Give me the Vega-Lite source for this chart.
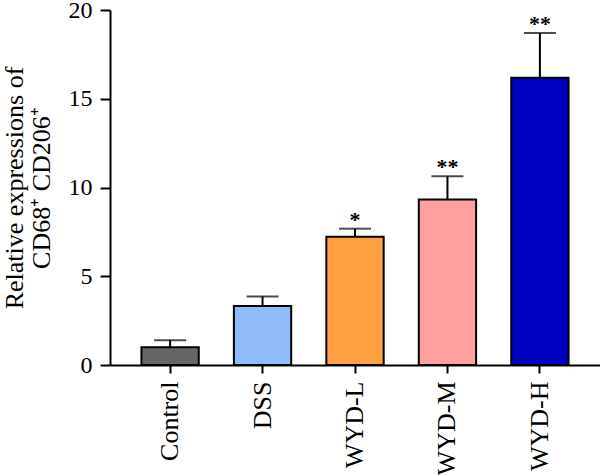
{
  "$schema": "https://vega.github.io/schema/vega-lite/v6.json",
  "autosize": {"type": "none"},
  "width": 490,
  "height": 355,
  "padding": {"left": 110, "top": 10, "right": 0, "bottom": 110},
  "background": "white",
  "config": {
    "view": {"stroke": null},
    "font": "Liberation Serif",
    "axis": {"grid": false, "domainColor": "black", "tickColor": "black", "labelColor": "black", "titleColor": "black", "domainWidth": 2, "tickWidth": 2, "labelFont": "Liberation Serif", "titleFont": "Liberation Serif"}
  },
  "data": {
    "values": [
      {"group": "Control", "value": 1.0, "upper": 1.4, "sig": "", "color": "#666666"},
      {"group": "DSS", "value": 3.33, "upper": 3.86, "sig": "", "color": "#8fbcf8"},
      {"group": "WYD-L", "value": 7.23, "upper": 7.68, "sig": "*", "color": "#ffa040"},
      {"group": "WYD-M", "value": 9.33, "upper": 10.63, "sig": "**", "color": "#ffa0a0"},
      {"group": "WYD-H", "value": 16.18, "upper": 18.7, "sig": "**", "color": "#0000c0"}
    ]
  },
  "encoding": {
    "x": {
      "field": "group", "type": "nominal", "sort": null,
      "scale": {"paddingInner": 0.38, "paddingOuter": 0.34},
      "axis": {"title": null, "labelAngle": -90, "labelAlign": "right", "labelBaseline": "middle", "labelFontSize": 26, "tickSize": 8, "labelPadding": 8}
    }
  },
  "layer": [
    {
      "mark": {"type": "rule", "strokeWidth": 2, "color": "black"},
      "encoding": {
        "y": {"field": "value", "type": "quantitative"},
        "y2": {"field": "upper"}
      }
    },
    {
      "mark": {"type": "tick", "size": 32, "thickness": 2, "color": "black"},
      "encoding": {
        "y": {"field": "upper", "type": "quantitative"}
      }
    },
    {
      "mark": {"type": "bar", "stroke": "black", "strokeWidth": 2},
      "encoding": {
        "y": {
          "field": "value", "type": "quantitative",
          "scale": {"domain": [0, 20], "nice": false},
          "axis": {"values": [0, 5, 10, 15, 20], "title": ["Relative expressions of", "CD68⁺ CD206⁺"], "titleFontSize": 26, "titleFontWeight": "normal", "titleLineHeight": 27, "labelFontSize": 24, "tickSize": 10, "labelPadding": 8, "titlePadding": 14}
        },
        "fill": {"field": "color", "type": "nominal", "scale": null}
      }
    },
    {
      "mark": {"type": "text", "fontSize": 22, "fontWeight": "bold", "baseline": "alphabetic", "dy": -2, "color": "black"},
      "encoding": {
        "y": {"field": "upper", "type": "quantitative"},
        "text": {"field": "sig"}
      }
    }
  ]
}
